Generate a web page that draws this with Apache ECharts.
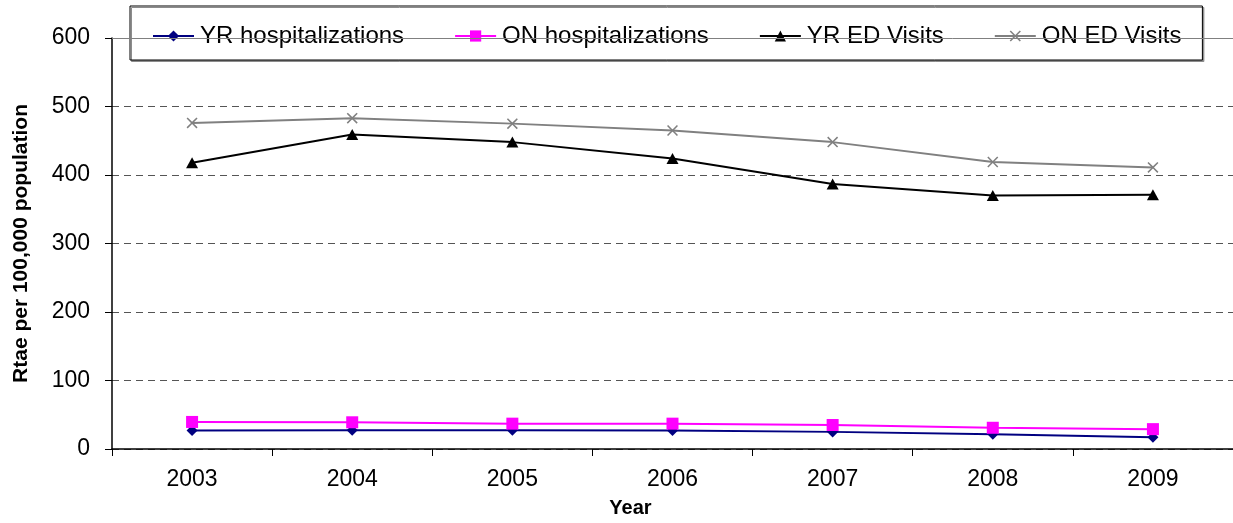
<!DOCTYPE html>
<html>
<head>
<meta charset="utf-8">
<script src="https://cdn.jsdelivr.net/npm/echarts@6/dist/echarts.min.js"></script>
<style>
  html, body { margin: 0; padding: 0; background: #fff; }
  #chart { width: 1233px; height: 523px; }
</style>
</head>
<body>
<div id="chart"></div>
<script>
// Years on the category axis
const years = ['2003', '2004', '2005', '2006', '2007', '2008', '2009'];

// Rates per 100,000 population
const yrHospitalizations = [27, 27.5, 27.5, 27, 25, 21.5, 17];
const onHospitalizations = [39.5, 39, 37, 37, 35, 31, 29];
const yrEdVisits = [418, 459, 448, 424, 387, 370, 371];
const onEdVisits = [476, 483, 475, 465, 448, 419, 411];

// Value axis range
const yMin = 0;
const yMax = 600;
const yStep = 100;

const FONT = 'Liberation Sans, Arial, sans-serif';
const crossPath = 'path://M0,1L1,0L5,4L9,0L10,1L6,5L10,9L9,10L5,6L1,10L0,9L4,5Z';

function lineSeries(name, data, color, symbol, size) {
  return {
    name: name,
    type: 'line',
    data: data,
    symbol: symbol,
    symbolSize: size,
    showSymbol: true,
    lineStyle: { color: color, width: 2 },
    itemStyle: { color: color },
    emphasis: { disabled: true },
    animation: false
  };
}

const series = [
  lineSeries('YR hospitalizations', yrHospitalizations, '#000080', 'diamond', [11, 11]),
  lineSeries('ON hospitalizations', onHospitalizations, '#FF00FF', 'rect', [12, 12]),
  lineSeries('YR ED Visits', yrEdVisits, '#000000', 'triangle', [12, 11]),
  lineSeries('ON ED Visits', onEdVisits, '#808080', crossPath, [11, 11])
];

// Solid plot-area border along the top of the value range
series[0].markLine = {
  silent: true,
  symbol: 'none',
  label: { show: false },
  lineStyle: { color: '#808080', type: 'solid', width: 1 },
  data: [{ yAxis: yMax }],
  animation: false
};

const chart = echarts.init(document.getElementById('chart'), null, { renderer: 'canvas' });
chart.setOption({
  backgroundColor: '#ffffff',
  animation: false,
  textStyle: { fontFamily: FONT },
  grid: { left: 112, right: -2, top: 38, bottom: 69, containLabel: false },
  legend: {
    left: 130,
    top: 6,
    padding: [18, 21, 12, 22],
    itemGap: 50,
    itemWidth: 41,
    itemHeight: 14,
    backgroundColor: '#ffffff',
    borderColor: '#000000',
    borderWidth: 1,
    borderRadius: 0,
    shadowColor: '#8c8c8c',
    shadowBlur: 0,
    shadowOffsetX: 1.5,
    shadowOffsetY: 1.5,
    selectedMode: false,
    textStyle: { fontFamily: FONT, fontSize: 24, color: '#000', padding: [0, 0, 0, 1] },
    data: series.map(s => s.name)
  },
  xAxis: {
    type: 'category',
    data: years,
    boundaryGap: true,
    name: 'Year',
    nameLocation: 'middle',
    nameGap: 49,
    nameTextStyle: { fontFamily: FONT, fontSize: 20, fontWeight: 'bold', color: '#000', padding: [0, 84, 0, 0] },
    axisLine: { show: true, lineStyle: { color: '#000', width: 1.5 } },
    axisTick: { show: true, length: 7, lineStyle: { color: '#000', width: 1 } },
    axisLabel: { fontFamily: FONT, fontSize: 23, color: '#000', margin: 19 },
    splitLine: { show: false }
  },
  yAxis: {
    type: 'value',
    min: yMin,
    max: yMax,
    interval: yStep,
    name: 'Rtae per 100,000 population',
    nameLocation: 'middle',
    nameGap: 80,
    nameRotate: 90,
    nameTextStyle: { fontFamily: FONT, fontSize: 21, fontWeight: 'bold', color: '#000' },
    axisLine: { show: true, lineStyle: { color: '#000', width: 1.5 } },
    axisTick: { show: true, length: 7, lineStyle: { color: '#000', width: 1 } },
    axisLabel: { fontFamily: FONT, fontSize: 23, color: '#000', margin: 22 },
    splitLine: { show: true, lineStyle: { color: '#555', type: [7, 5], width: 1 } }
  },
  series: series
});
</script>
</body>
</html>
